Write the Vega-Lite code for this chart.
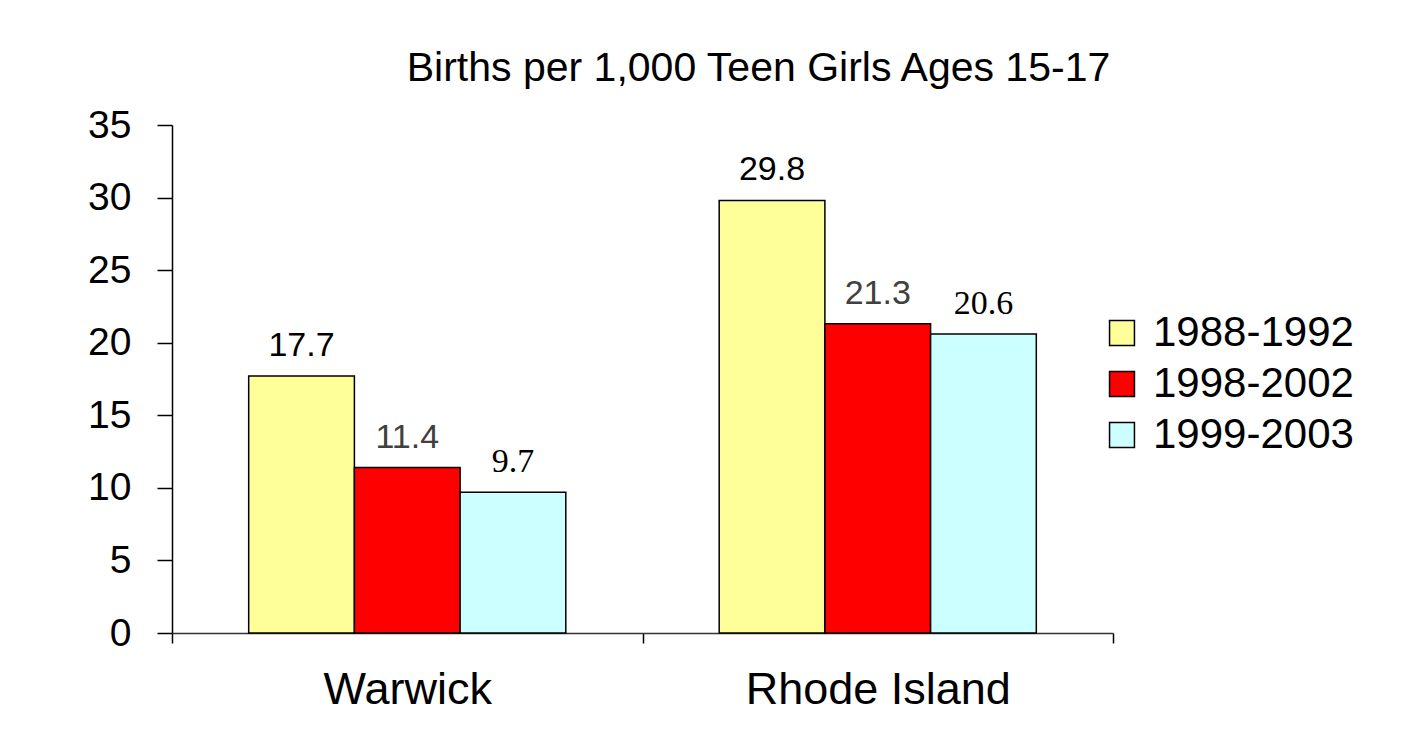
{
  "$schema": "https://vega.github.io/schema/vega-lite/v6.json",
  "width": 941,
  "height": 508,
  "autosize": "none",
  "padding": {"left": 172, "top": 125, "right": 307, "bottom": 102},
  "background": "white",
  "title": {
    "text": "Births per 1,000 Teen Girls Ages 15-17",
    "font": "Liberation Sans",
    "fontSize": 41,
    "fontWeight": "normal",
    "color": "black",
    "anchor": "middle",
    "baseline": "alphabetic",
    "dx": 116,
    "dy": 32,
    "offset": 16,
    "limit": 0
  },
  "data": {
    "values": [
      {"region": "Warwick", "period": "1988-1992", "value": 17.7},
      {"region": "Warwick", "period": "1998-2002", "value": 11.4},
      {"region": "Warwick", "period": "1999-2003", "value": 9.7},
      {"region": "Rhode Island", "period": "1988-1992", "value": 29.8},
      {"region": "Rhode Island", "period": "1998-2002", "value": 21.3},
      {"region": "Rhode Island", "period": "1999-2003", "value": 20.6}
    ]
  },
  "encoding": {
    "x": {
      "field": "region",
      "type": "nominal",
      "sort": ["Warwick", "Rhode Island"],
      "scale": {"paddingInner": 0, "paddingOuter": 0},
      "axis": {
        "title": null,
        "labelAngle": 0,
        "labelFont": "Liberation Sans",
        "labelFontSize": 45,
        "labelColor": "black",
        "labelPadding": 24,
        "labelLimit": 0,
        "tickBand": "extent",
        "tickSize": 10,
        "tickColor": "black",
        "tickWidth": 1.5,
        "domainColor": "#333333",
        "domainWidth": 1.5
      }
    },
    "xOffset": {
      "field": "period",
      "type": "nominal",
      "scale": {"domain": ["1988-1992", "1998-2002", "1999-2003"], "paddingInner": 0, "paddingOuter": 0.7255}
    },
    "y": {
      "field": "value",
      "type": "quantitative",
      "scale": {"domain": [0, 35], "nice": false},
      "axis": {
        "title": null,
        "values": [0, 5, 10, 15, 20, 25, 30, 35],
        "grid": false,
        "labelFont": "Liberation Sans",
        "labelFontSize": 39,
        "labelColor": "black",
        "labelPadding": 26,
        "tickSize": 15,
        "tickColor": "black",
        "tickWidth": 1.5,
        "domainColor": "black",
        "domainWidth": 1.5
      }
    }
  },
  "layer": [
    {
      "mark": {"type": "bar", "stroke": "black", "strokeWidth": 1.5},
      "encoding": {
        "color": {
          "field": "period",
          "type": "nominal",
          "scale": {"domain": ["1988-1992", "1998-2002", "1999-2003"], "range": ["#FFFF99", "#FF0000", "#CCFFFF"]},
          "legend": {
            "title": null,
            "orient": "none",
            "legendX": 929,
            "legendY": 187,
            "padding": 0,
            "symbolType": "square",
            "symbolSize": 620,
            "symbolStrokeColor": "black",
            "symbolStrokeWidth": 1.5,
            "symbolOpacity": 1,
            "labelFont": "Liberation Sans",
            "labelFontSize": 42,
            "labelColor": "black",
            "labelLimit": 0,
            "labelOffset": 10,
            "rowPadding": 9
          }
        }
      }
    },
    {
      "transform": [{"filter": "datum.period != '1999-2003'"}],
      "mark": {"type": "text", "font": "Liberation Sans", "fontSize": 34, "dy": -20, "baseline": "alphabetic"},
      "encoding": {
        "text": {"field": "value", "type": "quantitative", "format": ".1f"},
        "color": {"condition": {"test": "datum.period == '1998-2002'", "value": "#404040"}, "value": "black"}
      }
    },
    {
      "transform": [{"filter": "datum.period == '1999-2003'"}],
      "mark": {"type": "text", "font": "Liberation Serif", "fontSize": 34, "dy": -20, "baseline": "alphabetic", "color": "black"},
      "encoding": {
        "text": {"field": "value", "type": "quantitative", "format": ".1f"}
      }
    }
  ],
  "config": {"view": {"stroke": null}}
}
